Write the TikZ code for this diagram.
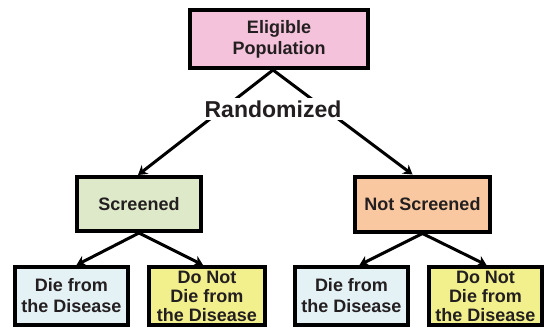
\documentclass[tikz,border=0pt]{standalone}
\usepackage{fontspec}
\setmainfont{Liberation Sans}
\usepackage{xcolor}
\usetikzlibrary{arrows.meta}

\definecolor{popPink}{HTML}{F4C2DA}
\definecolor{scrGreen}{HTML}{DDE9C8}
\definecolor{notOrange}{HTML}{FAC8A0}
\definecolor{dieBlue}{HTML}{E4F1F5}
\definecolor{liveYellow}{HTML}{F2F08C}
\definecolor{inkGray}{HTML}{231F20}

\tikzset{
  box/.style={draw=black, line width=4pt, align=center, text=inkGray,
    font=\bfseries\fontsize{18}{21}\selectfont, inner sep=0pt},
  tightbox/.style={box, font=\bfseries\fontsize{18}{19}\selectfont},
  link/.style={line width=3pt, -{Stealth[length=9pt,width=11pt]}}
}

\begin{document}
\begin{tikzpicture}[x=1pt,y=-1pt]
  \useasboundingbox (0,0) rectangle (545,330);

  % Top of the tree
  \node[box, fill=popPink, minimum width=178pt, minimum height=58pt]
    (pop) at (279,39) {Eligible\\Population};

  % The two arms
  \node[box, fill=scrGreen, minimum width=124pt, minimum height=54pt]
    (scr) at (139,204) {Screened};
  \node[box, fill=notOrange, minimum width=135pt, minimum height=55pt]
    (notscr) at (422.5,204) {Not Screened};

  % Outcomes
  \node[box, fill=dieBlue, minimum width=113pt, minimum height=58pt]
    (dieS) at (71.5,296) {Die from\\the Disease};
  \node[tightbox, fill=liveYellow, minimum width=116pt, minimum height=58pt]
    (liveS) at (207,296) {Do Not\\Die from\\the Disease};
  \node[box, fill=dieBlue, minimum width=113pt, minimum height=58pt]
    (dieN) at (351.5,296) {Die from\\the Disease};
  \node[tightbox, fill=liveYellow, minimum width=113pt, minimum height=58pt]
    (liveN) at (485.5,296) {Do Not\\Die from\\the Disease};

  % Randomization arrows (drawn under the label)
  \coordinate (split) at ([xshift=-6pt]pop.south);
  \draw[link] (split) -- ([xshift=-1pt]scr.north);
  \draw[link] (split) -- ([xshift=-10pt]notscr.north);
  \node[fill=white, text=inkGray, inner sep=3pt,
    font=\bfseries\fontsize{23}{27}\selectfont] (rand) at (273,109) {Randomized};

  % Outcome arrows
  \draw[link] (scr.south) -- ([xshift=5pt]dieS.north);
  \draw[link] (scr.south) -- ([xshift=-4pt]liveS.north);
  \draw[link] (notscr.south) -- ([xshift=8pt]dieN.north);
  \draw[link] (notscr.south) -- ([xshift=1pt]liveN.north);

\end{tikzpicture}
\end{document}
